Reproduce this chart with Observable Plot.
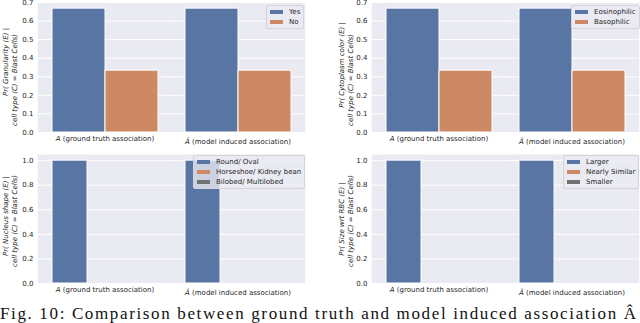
<!DOCTYPE html>
<html>
<head>
<meta charset="utf-8">
<script src="https://cdn.jsdelivr.net/npm/d3@7"></script>
<script src="https://cdn.jsdelivr.net/npm/@observablehq/plot@0.6"></script>
<style>
  html, body { margin: 0; padding: 0; background: #fff; }
  #fig { position: relative; width: 640px; height: 323px; overflow: hidden; font-family: "DejaVu Sans", sans-serif; color: #262626; }
  .panel { position: absolute; }
  .ylab { position: absolute; font-size: 7px; font-style: italic; white-space: nowrap; transform: translate(-50%, -50%) rotate(-90deg); line-height: 1; }
  .legend { position: absolute; font-size: 7px; background: rgba(234,234,242,0.8); border: 1px solid #d4d4d8; border-radius: 2px; padding: 1px 3px 1px 3px; box-sizing: border-box; }
  .legend .row { display: flex; align-items: center; height: 10px; white-space: nowrap; }
  .legend .sw { display: inline-block; width: 13px; height: 4px; margin-right: 6px; }
</style>
</head>
<body>
<div id="fig"></div>
<script>
// ---------- data ----------
const categories = ["A (ground truth association)", "Â (model induced association)"];

const granularityHues = ["Yes", "No"];
const granularityGT = [0.667, 0.333];
const granularityModel = [0.667, 0.333];

const cytoplasmHues = ["Eosinophilic", "Basophilic"];
const cytoplasmGT = [0.667, 0.333];
const cytoplasmModel = [0.667, 0.333];

const nucleusHues = ["Round/ Oval", "Horseshoe/ Kidney bean", "Bilobed/ Multilobed"];
const nucleusGT = [1.0, 0, 0];
const nucleusModel = [1.0, 0, 0];

const sizeHues = ["Larger", "Nearly Similar", "Smaller"];
const sizeGT = [1.0, 0, 0];
const sizeModel = [1.0, 0, 0];

const ticksTop = [0, 0.1, 0.2, 0.3, 0.4, 0.5, 0.6, 0.7];
const ticksBottom = [0, 0.2, 0.4, 0.6, 0.8, 1.0];

const palette = ["#5975a4", "#cc8963", "#707370"];

const ylabelLine2 = "cell type (C) = Blast Cells)";
const caption = "Fig. 10: Comparison between ground truth and model induced association Â";

// ---------- panels ----------
const panels = [
  {hues: granularityHues, gt: granularityGT, model: granularityModel, yMax: 0.7, ticks: ticksTop,
   left: 0, top: 0, mL: 38, mR: 16, mT: 2, mB: 18,
   yl1: "Pr( Granularity (E) |", l1: [6, 62], l2: [15, 80], legend: [266, 5]},
  {hues: cytoplasmHues, gt: cytoplasmGT, model: cytoplasmModel, yMax: 0.7, ticks: ticksTop,
   left: 320, top: 0, mL: 52, mR: 2, mT: 2, mB: 18,
   yl1: "Pr( Cytoplasm color (E) |", l1: [342, 65], l2: [351, 80], legend: [571, 5]},
  {hues: nucleusHues, gt: nucleusGT, model: nucleusModel, yMax: 1.05, ticks: ticksBottom,
   left: 0, top: 150, mL: 38, mR: 16, mT: 4, mB: 17,
   yl1: "Pr( Nucleus shape (E) |", l1: [6, 216], l2: [15, 221], legend: [193, 155]},
  {hues: sizeHues, gt: sizeGT, model: sizeModel, yMax: 1.05, ticks: ticksBottom,
   left: 320, top: 150, mL: 52, mR: 2, mT: 4, mB: 17,
   yl1: "Pr( Size wrt RBC (E) |", l1: [342, 219], l2: [351, 221], legend: [563, 155]}
];

const fig = document.getElementById("fig");

for (const p of panels) {
  const table = [];
  [p.gt, p.model].forEach((vals, ci) => {
    vals.forEach((v, hi) => table.push({cat: categories[ci], hue: p.hues[hi], v}));
  });
  const n = p.hues.length;
  const chart = Plot.plot({
    width: 320,
    height: 150,
    marginLeft: p.mL,
    marginRight: p.mR,
    marginTop: p.mT,
    marginBottom: p.mB,
    style: {fontFamily: "DejaVu Sans", fontSize: "7px", color: "#262626", background: "transparent", overflow: "visible"},
    fx: {domain: categories, padding: 0, axis: "bottom", label: null, tickSize: 0, tickPadding: 4},
    x: {domain: p.hues, axis: null, paddingInner: 0, paddingOuter: 0.125 * n},
    y: {domain: [0, p.yMax], ticks: p.ticks, tickFormat: d3.format(".1f"), tickSize: 0, tickPadding: 5, label: null},
    color: {domain: p.hues, range: palette.slice(0, n)},
    marks: [
      Plot.frame({fill: "#eaeaf2", stroke: "none", insetLeft: -0.75, insetRight: -0.75}),
      Plot.ruleY(p.ticks, {stroke: "white", strokeWidth: 1, insetLeft: -0.75, insetRight: -0.75}),
      Plot.barY(table, {filter: d => d.v > 0, fx: "cat", x: "hue", y: "v", fill: "hue", stroke: "white", strokeWidth: 1})
    ]
  });
  chart.classList.add("panel");
  chart.style.left = p.left + "px";
  chart.style.top = p.top + "px";
  // italic A / Â in category tick labels
  chart.querySelectorAll("text").forEach(t => {
    const s = t.textContent;
    if (categories.includes(s)) {
      while (t.firstChild) t.removeChild(t.firstChild);
      const a = document.createElementNS("http://www.w3.org/2000/svg", "tspan");
      a.setAttribute("font-style", "italic");
      a.textContent = s[0];
      if (s[0] === "Â") a.setAttribute("dy", "2.5");
      const rest = document.createElementNS("http://www.w3.org/2000/svg", "tspan");
      rest.textContent = s.slice(1);
      t.appendChild(a);
      t.appendChild(rest);
    }
  });
  fig.appendChild(chart);

  // y label (two lines)
  [[p.yl1, p.l1], [ylabelLine2, p.l2]].forEach(([txt, pos]) => {
    const d = document.createElement("div");
    d.className = "ylab";
    d.textContent = txt;
    d.style.left = pos[0] + "px";
    d.style.top = pos[1] + "px";
    fig.appendChild(d);
  });

  // legend
  const lg = document.createElement("div");
  lg.className = "legend";
  lg.style.left = p.legend[0] + "px";
  lg.style.top = p.legend[1] + "px";
  p.hues.forEach((h, i) => {
    const row = document.createElement("div");
    row.className = "row";
    const sw = document.createElement("span");
    sw.className = "sw";
    sw.style.background = palette[i];
    const lab = document.createElement("span");
    lab.textContent = h;
    row.appendChild(sw);
    row.appendChild(lab);
    lg.appendChild(row);
  });
  fig.appendChild(lg);
}

// caption at the bottom edge
const cap = d3.select(fig).append("svg")
  .attr("width", 640).attr("height", 23)
  .style("position", "absolute").style("left", "0px").style("top", "300px");
cap.append("text")
  .attr("x", 0).attr("y", 18.5)
  .attr("font-family", "Liberation Serif, serif")
  .attr("font-size", 17)
  .attr("fill", "#111")
  .attr("textLength", 636)
  .attr("lengthAdjust", "spacing")
  .text(caption);
</script>
</body>
</html>
